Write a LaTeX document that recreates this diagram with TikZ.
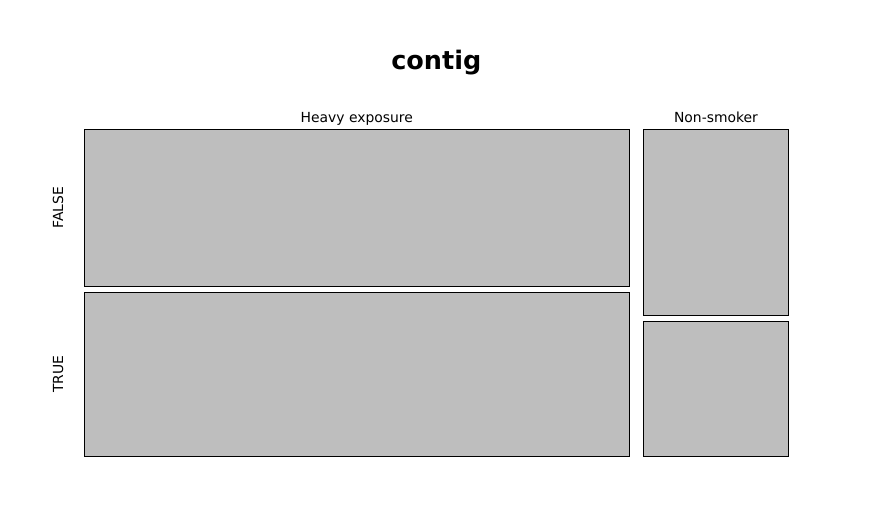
\documentclass[tikz,border=0pt]{standalone}
\usepackage{fontspec}
\setmainfont{DejaVu Sans}
\usepackage{tikz}
\usetikzlibrary{positioning}
\definecolor{cellgray}{RGB}{190,190,190}

\begin{document}
\begin{tikzpicture}[x=1pt,y=-1pt,
    cell/.style={draw,fill=cellgray,line width=1pt,inner sep=0pt,outer sep=0pt,anchor=north west},
    lab/.style={inner sep=0pt,font=\fontsize{13.9}{16}\selectfont}]
    \useasboundingbox (0,0) rectangle (888,516);
    \node[font=\bfseries\fontsize{25.5}{30}\selectfont,anchor=base] (title) at (436.25,69.5) {contig};

    \node[cell,minimum width=545.5pt,minimum height=156.5pt] (heavyF) at (84,129.5) {};
    \node[cell,minimum width=545.5pt,minimum height=163.5pt] (heavyT) [below=6.5pt of heavyF.south west,anchor=north west] {};
    \node[cell,minimum width=145pt,minimum height=185.5pt]   (nonF)   [right=14pt of heavyF.north east,anchor=north west] {};
    \node[cell,minimum width=145pt,minimum height=134.5pt]   (nonT)   [below=6.5pt of nonF.south west,anchor=north west] {};

    \node[lab] (heavy) [above=7.5pt of heavyF.north,anchor=base] {Heavy exposure};
    \node[lab] (non)   [above=7.5pt of nonF.north,anchor=base]   {Non-smoker};
    \node[lab,rotate=90] (false) [left=21pt of heavyF.west,anchor=base] {FALSE};
    \node[lab,rotate=90] (true)  [left=21pt of heavyT.west,anchor=base] {TRUE};
\end{tikzpicture}
\end{document}
